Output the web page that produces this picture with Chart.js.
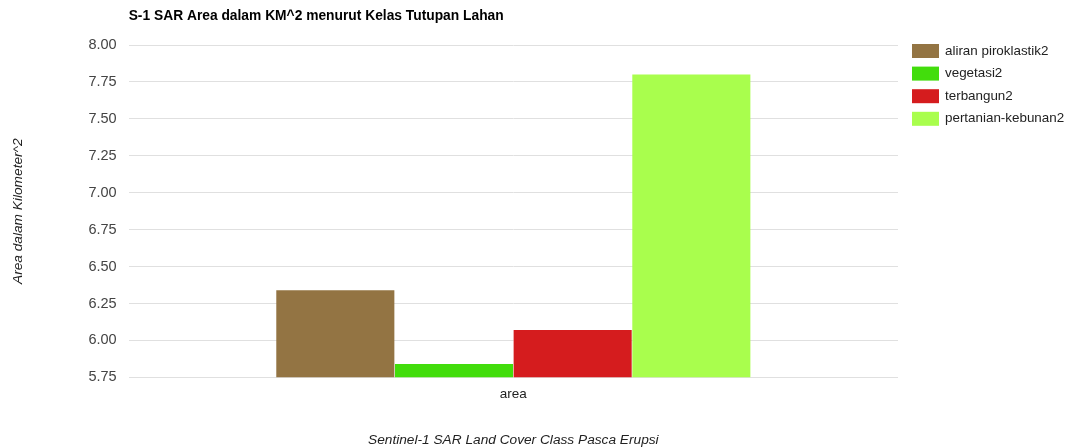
<!DOCTYPE html>
<html>
<head>
<meta charset="utf-8">
<script src="https://cdn.jsdelivr.net/npm/chart.js@4.4.1/dist/chart.umd.min.js"></script>
<style>
  html, body { margin: 0; padding: 0; background: #fff; }
  #wrap { width: 1070px; height: 448px; }
</style>
</head>
<body>
<div id="wrap"><canvas id="myChart" width="1070" height="448"></canvas></div>
<script>
var categories = ["area"];
var seriesNames = ["aliran piroklastik2", "vegetasi2", "terbangun2", "pertanian-kebunan2"];
var seriesValues = [[6.34], [5.84], [6.07], [7.80]];
var seriesColors = ["#937443", "#42dd0c", "#d51c1e", "#a9fe4d"];
var yTicks = [5.75, 6.00, 6.25, 6.50, 6.75, 7.00, 7.25, 7.50, 7.75, 8.00];

var FONT = "Arial, 'Liberation Sans', sans-serif";

// judul dan legenda digambar sendiri supaya posisinya rapi
var extras = {
    id: "extras",
    afterDraw: function (chart) {
        var ctx = chart.ctx;
        var area = chart.chartArea;
        ctx.save();
        ctx.fillStyle = "#000";
        ctx.font = "bold 13.8px " + FONT;
        ctx.textBaseline = "middle";
        ctx.textAlign = "left";
        ctx.fillText("S-1 SAR Area dalam KM^2 menurut Kelas Tutupan Lahan", area.left, 16);

        ctx.font = "13.4px " + FONT;
        chart.data.datasets.forEach(function (ds, i) {
            var y = 51 + i * 22.6;
            ctx.fillStyle = ds.backgroundColor;
            ctx.fillRect(912, y - 7, 27, 14);
            ctx.fillStyle = "#222";
            ctx.fillText(ds.label, 945, y);
        });
        ctx.restore();
    }
};

new Chart("myChart", {
    type: "bar",
    data: {
        labels: categories,
        datasets: seriesNames.map(function (name, i) {
            return {
                label: name,
                data: seriesValues[i],
                backgroundColor: seriesColors[i],
                borderWidth: 0
            };
        })
    },
    options: {
        responsive: false,
        animation: false,
        layout: { padding: { top: 45, right: 172, left: 10, bottom: 0 } },
        datasets: {
            bar: { categoryPercentage: 0.617, barPercentage: 0.995 }
        },
        plugins: {
            legend: { display: false },
            title: { display: false },
            tooltip: { enabled: false }
        },
        scales: {
            x: {
                grid: { display: false },
                border: { display: false },
                ticks: { color: "#222", font: { family: FONT, size: 13.5 }, padding: 1 },
                title: {
                    display: true,
                    text: "Sentinel-1 SAR Land Cover Class Pasca Erupsi",
                    color: "#222",
                    font: { family: FONT, size: 13.7, style: "italic" },
                    padding: { top: 28, bottom: 0 }
                }
            },
            y: {
                min: yTicks[0],
                max: yTicks[yTicks.length - 1],
                afterBuildTicks: function (axis) {
                    axis.ticks = yTicks.map(function (v) { return { value: v }; });
                },
                ticks: {
                    color: "#444",
                    font: { family: FONT, size: 14.5 },
                    padding: 12,
                    callback: function (v) { return v.toFixed(2); }
                },
                grid: { color: "#e0e0e0", drawTicks: false },
                border: { display: false },
                title: {
                    display: true,
                    text: "Area dalam Kilometer^2",
                    color: "#222",
                    font: { family: FONT, size: 13.7, style: "italic" },
                    padding: { top: 0, bottom: 50 }
                }
            }
        }
    },
    plugins: [extras]
});
</script>
</body>
</html>
